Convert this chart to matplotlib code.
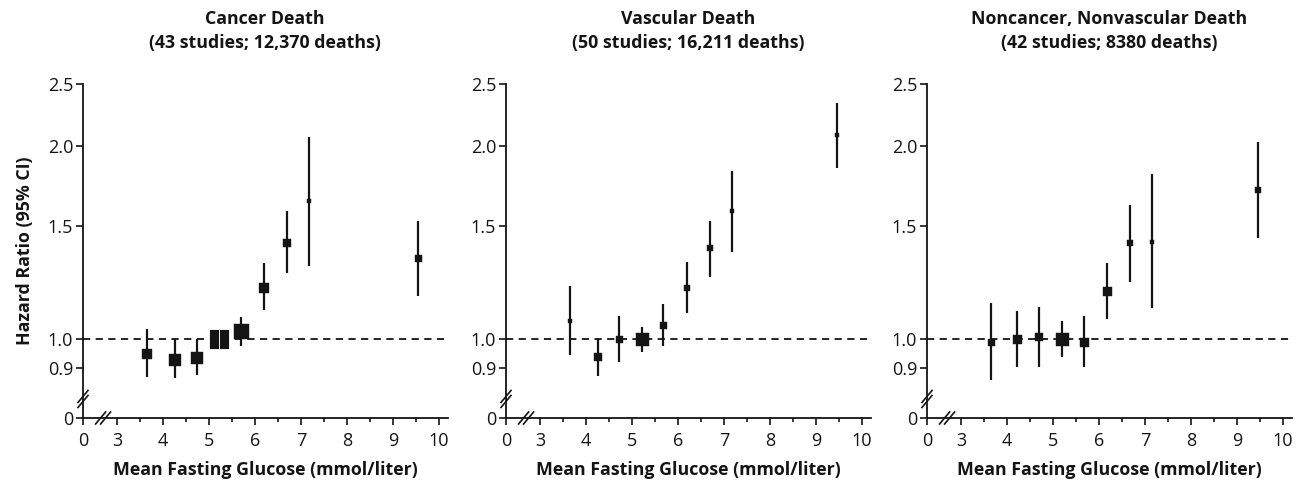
import numpy as np
import matplotlib
matplotlib.use("Agg")
import matplotlib.pyplot as plt
from matplotlib.ticker import FixedLocator, NullLocator

plt.rcParams['font.family'] = ['Open Sans', 'DejaVu Sans']

titles = [
    "Cancer Death\n(43 studies; 12,370 deaths)",
    "Vascular Death\n(50 studies; 16,211 deaths)",
    "Noncancer, Nonvascular Death\n(42 studies; 8380 deaths)",
]

# glucose (mmol/liter), hazard ratio, lower and upper 95% CI, box size (px)
cancer_x = [3.65, 4.26, 4.74, 5.10, 5.33, 5.70, 6.20, 6.70, 7.17, 9.54]
cancer_hr = [0.947, 0.927, 0.934, 1.0, 1.0, 1.029, 1.20, 1.41, 1.643, 1.338]
cancer_lo = [0.872, 0.869, 0.879, 0.975, 0.975, 0.975, 1.11, 1.268, 1.30, 1.167]
cancer_hi = [1.037, 1.0, 1.0, 1.025, 1.025, 1.082, 1.314, 1.585, 2.07, 1.529]
cancer_size = [10, 12, 12.5, 20, 20, 15, 10, 8, 4, 7]

vasc_x = [3.65, 4.26, 4.72, 5.22, 5.67, 6.20, 6.70, 7.17, 9.46]
vasc_hr = [1.067, 0.937, 1.0, 1.0, 1.052, 1.20, 1.387, 1.585, 2.08]
vasc_lo = [0.944, 0.875, 0.921, 0.954, 0.975, 1.098, 1.25, 1.367, 1.85]
vasc_hi = [1.21, 1.0, 1.086, 1.044, 1.134, 1.32, 1.529, 1.83, 2.337]
vasc_size = [5, 8, 7, 13, 7, 6, 6, 4, 4.5]

other_x = [3.65, 4.22, 4.70, 5.20, 5.67, 6.17, 6.67, 7.15, 9.46]
other_hr = [0.99, 1.0, 1.007, 1.0, 0.99, 1.188, 1.41, 1.418, 1.71]
other_lo = [0.863, 0.904, 0.904, 0.937, 0.904, 1.075, 1.228, 1.118, 1.438]
other_hi = [1.138, 1.106, 1.122, 1.067, 1.086, 1.314, 1.62, 1.81, 2.03]
other_size = [7, 9, 8, 13, 9, 9, 6, 4, 5.5]

panels = [
    (cancer_x, cancer_hr, cancer_lo, cancer_hi, cancer_size),
    (vasc_x, vasc_hr, vasc_lo, vasc_hi, vasc_size),
    (other_x, other_hr, other_lo, other_hi, other_size),
]

xticks = [3, 4, 5, 6, 7, 8, 9, 10]
yticks = [0.9, 1.0, 1.5, 2.0, 2.5]
x_zero = 2.26   # where the broken x axis shows "0"
y_zero = 0.753  # where the broken y axis shows "0"
x_max = 10.2

ink = "#141414"
fig = plt.figure(figsize=(13.01, 4.88), dpi=100)
lefts = [83, 506, 927]
W, H = 1301, 488
tall = [(-0.5, -1), (0.5, -1), (0.5, 1), (-0.5, 1), (-0.5, -1)]

for i, (x, hr, lo, hi, size) in enumerate(panels):
    ax = fig.add_axes([lefts[i] / W, 1 - 418 / H, 365 / W, (418 - 84) / H])
    ax.set_yscale('log')
    ax.set_xlim(x_zero, x_max)
    ax.set_ylim(y_zero, 2.5)

    ax.axhline(1.0, color=ink, lw=1.3, ls=(0, (4, 3)), zorder=1)

    x = np.array(x)
    hr = np.array(hr)
    err = [hr - np.array(lo), np.array(hi) - hr]
    ax.errorbar(x, hr, yerr=err, fmt='none', ecolor=ink, elinewidth=1.6,
                capsize=0, zorder=2)
    for xi, yi, si in zip(x, hr, size):
        if i == 0 and si >= 20:
            ax.plot(xi, yi, marker=tall, ms=si * 0.72, color=ink,
                    mec='white', mew=0.6, zorder=3)
        else:
            ax.plot(xi, yi, marker='s', ms=si * 0.72, color=ink,
                    mec=ink, mew=0.3, zorder=3)

    for s in ['top', 'right']:
        ax.spines[s].set_visible(False)
    for s in ['left', 'bottom']:
        ax.spines[s].set_linewidth(1.3)
        ax.spines[s].set_color(ink)

    ax.xaxis.set_major_locator(FixedLocator([x_zero] + xticks))
    ax.set_xticklabels(['0'] + [str(t) for t in xticks])
    ax.xaxis.set_minor_locator(FixedLocator([t + 0.5 for t in xticks[:-1]]))
    ax.yaxis.set_major_locator(FixedLocator([y_zero] + yticks))
    ax.set_yticklabels(['0'] + ['%.1f' % t for t in yticks])
    ax.yaxis.set_minor_locator(NullLocator())
    ax.tick_params(axis='both', which='major', length=5, width=1.2,
                   color=ink, labelsize=13, labelcolor=ink, pad=2)
    ax.tick_params(axis='x', which='major', pad=5)
    ax.tick_params(axis='x', which='minor', length=3, width=1.2, color=ink)

    # break marks on both axes
    kw = dict(transform=ax.transAxes, color=ink, lw=1.2, clip_on=False, zorder=5)
    dx, dy = 5 / 365, 6 / 334
    yb = 0.057
    for off in (-2.5 / 334, 2.5 / 334):
        ax.plot([-dx, dx], [yb + off - dy, yb + off + dy], **kw)
    xb = 0.055
    for off in (-2.5 / 365, 2.5 / 365):
        ax.plot([xb + off - dx, xb + off + dx], [-dy, dy], **kw)

    ax.set_xlabel("Mean Fasting Glucose (mmol/liter)", fontsize=12.8,
                  fontweight='bold', color=ink, labelpad=8)
    if i == 0:
        ax.set_ylabel("Hazard Ratio (95% CI)", fontsize=12.8,
                      fontweight='bold', color=ink, labelpad=10)

    cx = (lefts[i] + 182) / W
    fig.text(cx, 1 - 31 / H, titles[i], ha='center', va='center',
             fontsize=12.8, fontweight='bold', color=ink, linespacing=1.4)

fig.savefig("out.png", dpi=100)
